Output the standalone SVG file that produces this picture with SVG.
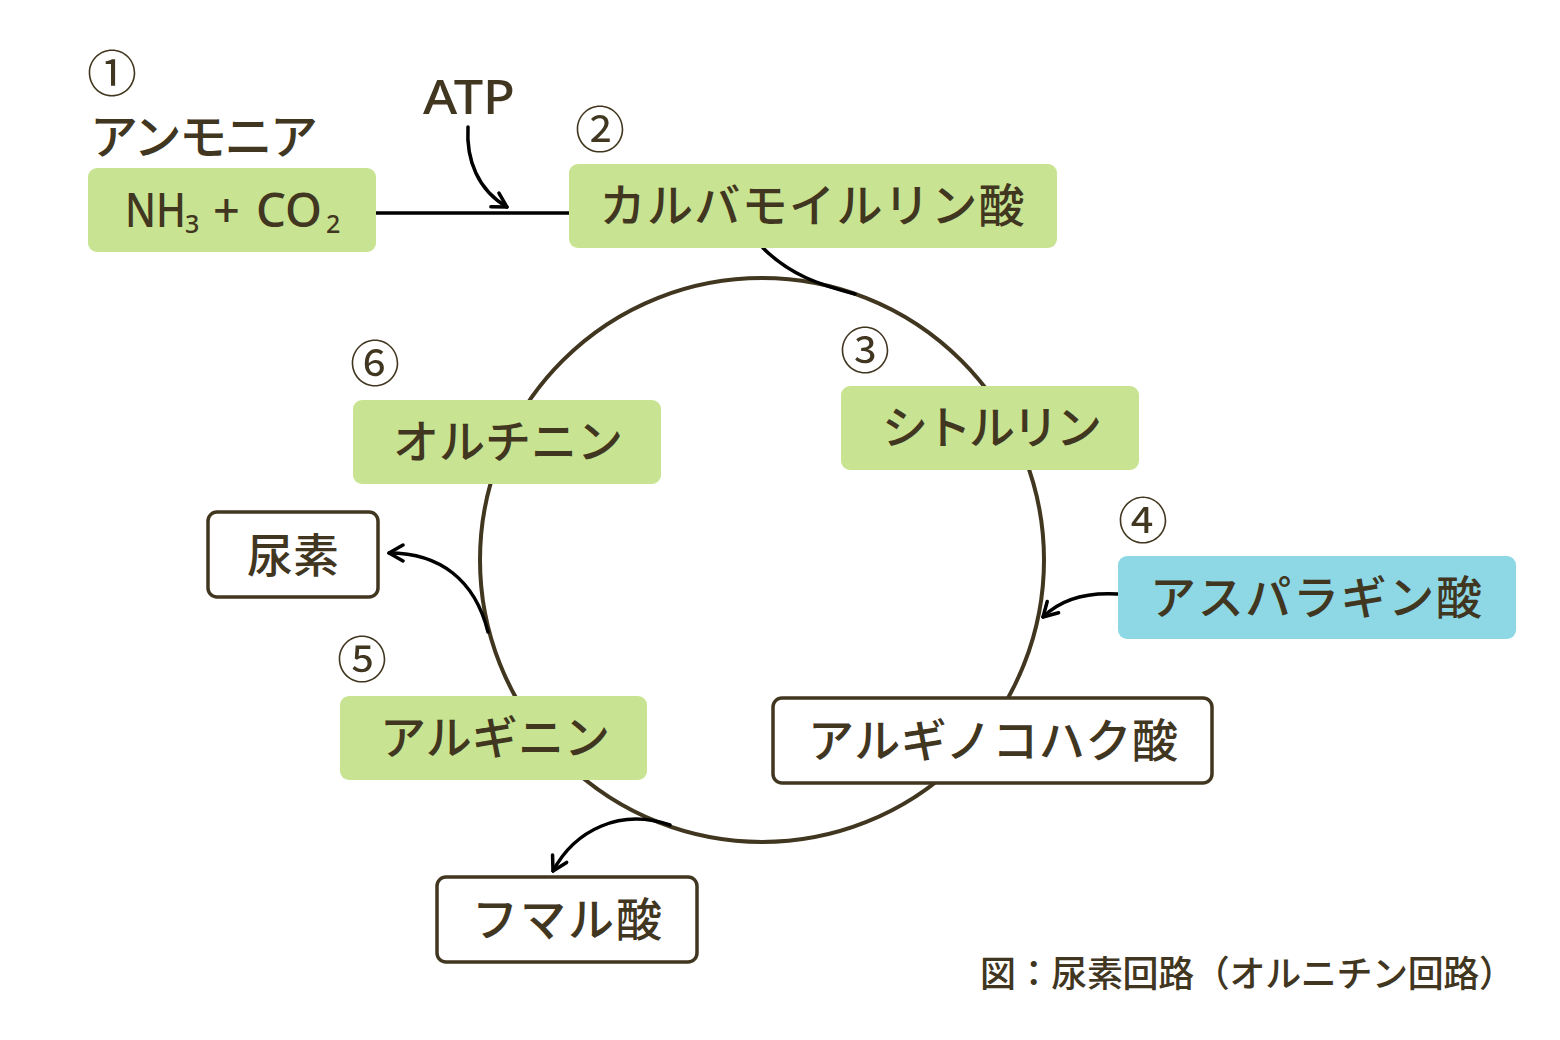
<svg xmlns="http://www.w3.org/2000/svg" width="1560" height="1040" viewBox="0 0 1560 1040">
<defs>
<style>
.t{font-family:"Noto Sans CJK JP","Noto Sans",sans-serif;fill:#41361f;font-weight:500;}
.lat{font-family:"Noto Sans","DejaVu Sans",sans-serif;fill:#41361f;font-weight:500;}
.lbl{font-size:46px;text-anchor:middle;}
.num{font-size:50px;text-anchor:middle;font-weight:400;}
.g{fill:#c8e391;}
.b{fill:#8dd8e4;}
.w{fill:#ffffff;stroke:#41361f;stroke-width:3.5;}
.arr{fill:none;stroke:#000;stroke-width:3.5;stroke-linecap:round;stroke-linejoin:round;}
</style>
<marker id="ah" viewBox="0 0 20 20" refX="18" refY="10" markerWidth="20" markerHeight="20" markerUnits="userSpaceOnUse" orient="auto">
<path d="M4,2 L18,10 L4,18" fill="none" stroke="#000" stroke-width="3.5" stroke-linecap="round" stroke-linejoin="round"/>
</marker>
</defs>
<rect width="1560" height="1040" fill="#fff"/>
<g id="cycle">
<circle cx="762" cy="560" r="282" fill="none" stroke="#41361f" stroke-width="4"/>
</g>
<g id="connectors">
<path class="arr" d="M376,213 L569,213"/>
<path class="arr" d="M468,127 C466,160 478,190 507,207" marker-end="url(#ah)"/>
<path class="arr" d="M763,248 C790,275 820,285 855,294"/>
<path class="arr" d="M1118,594 C1085,592 1060,600 1043,617" marker-end="url(#ah)"/>
<path class="arr" d="M488,632 C475,580 440,553 389,553" marker-end="url(#ah)"/>
<path class="arr" d="M670,825 C620,808 575,830 553,871" marker-end="url(#ah)"/>
</g>
<g id="n1">
<text class="t num" x="112" y="92">①</text>
<text class="t" x="90" y="154" font-size="48" textLength="228">アンモニア</text>
<rect class="g" x="88" y="168" width="288" height="84" rx="9"/>
<text class="lat" font-size="47" x="125" y="227" textLength="61" lengthAdjust="spacingAndGlyphs">NH</text>
<text class="lat" font-size="25" x="185" y="233">3</text>
<text class="lat" font-size="47" x="213" y="227">+</text>
<text class="lat" font-size="47" x="256" y="227" textLength="66" lengthAdjust="spacingAndGlyphs">CO</text>
<text class="lat" font-size="25" x="326" y="233">2</text>
</g>
<g id="atp">
<text class="lat" x="423" y="114" font-size="47" textLength="92" lengthAdjust="spacingAndGlyphs">ATP</text>
</g>
<g id="n2">
<text class="t num" x="600" y="148">②</text>
<rect class="g" x="569" y="164" width="488" height="84" rx="9"/>
<text class="t lbl" x="812" y="222" textLength="425">カルバモイルリン酸</text>
</g>
<g id="n3">
<text class="t num" x="865" y="369">③</text>
<rect class="g" x="841" y="386" width="298" height="84" rx="9"/>
<text class="t lbl" x="992" y="444" textLength="220">シトルリン</text>
</g>
<g id="n4">
<text class="t num" x="1143" y="539">④</text>
<rect class="b" x="1118" y="556" width="398" height="83" rx="9"/>
<text class="t lbl" x="1316" y="614" textLength="332">アスパラギン酸</text>
</g>
<g id="argsucc">
<rect class="w" x="773" y="698" width="439" height="85" rx="9"/>
<text class="t lbl" x="993" y="757" textLength="370">アルギノコハク酸</text>
</g>
<g id="n5">
<text class="t num" x="362" y="678">⑤</text>
<rect class="g" x="340" y="696" width="307" height="84" rx="9"/>
<text class="t lbl" x="495" y="754" textLength="230">アルギニン</text>
</g>
<g id="n6">
<text class="t num" x="375" y="382">⑥</text>
<rect class="g" x="353" y="400" width="308" height="84" rx="9"/>
<text class="t lbl" x="508" y="458" textLength="230">オルチニン</text>
</g>
<g id="urea">
<rect class="w" x="208" y="512" width="170" height="85" rx="9"/>
<text class="t lbl" x="293" y="572" font-size="48">尿素</text>
</g>
<g id="fumarate">
<rect class="w" x="437" y="877" width="260" height="85" rx="9"/>
<text class="t lbl" x="567" y="936" textLength="190">フマル酸</text>
</g>
<g id="caption">
<text class="t" x="980" y="987" font-size="36" textLength="535">図：尿素回路（オルニチン回路）</text>
</g>
</svg>
